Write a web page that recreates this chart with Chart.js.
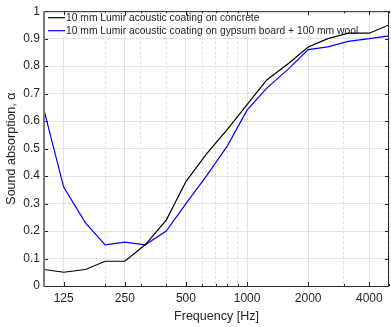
<!DOCTYPE html>
<html>
<head>
<meta charset="utf-8">
<script src="https://cdn.jsdelivr.net/npm/chart.js@4"></script>
<style>
  html, body { margin: 0; padding: 0; background: #fff; }
  #wrap { width: 391px; height: 327px; overflow: hidden; }
</style>
</head>
<body>
<div id="wrap"><canvas id="chart" width="394" height="327"></canvas></div>
<script>
// third-octave band centre frequencies
const frequencies = [100, 125, 160, 200, 250, 315, 400, 500, 630, 800, 1000, 1250, 1600, 2000, 2500, 3150, 4000, 5000];
const concrete = [0.06, 0.05, 0.06, 0.09, 0.09, 0.15, 0.24, 0.38, 0.48, 0.57, 0.66, 0.75, 0.81, 0.87, 0.90, 0.92, 0.92, 0.95];
const gypsumWool = [0.64, 0.36, 0.23, 0.15, 0.16, 0.15, 0.20, 0.30, 0.40, 0.51, 0.64, 0.72, 0.79, 0.86, 0.87, 0.89, 0.90, 0.91];
const seriesNames = [
    '10 mm Lumir acoustic coating on concrete',
    '10 mm Lumir acoustic coating on gypsum board + 100 mm wool'
];
const xTicks = [100, 125, 200, 250, 300, 400, 500, 600, 700, 800, 900, 1000, 2000, 3000, 4000, 5000];
const xLabels = [125, 250, 500, 1000, 2000, 4000];
const yTicks = [0, 0.1, 0.2, 0.3, 0.4, 0.5, 0.6, 0.7, 0.8, 0.9, 1];

const FONT = 'Liberation Sans, Arial, Helvetica, sans-serif';
const TEXT = '#262626';
const GRID = '#e3e3e3';

function toPoints(values) {
    return frequencies.map((f, i) => ({ x: f, y: values[i] }));
}

// legend box drawn inside the plot, under the lines
const insideLegend = {
    id: 'insideLegend',
    beforeDatasetsDraw(chart) {
        const { ctx, chartArea } = chart;
        const colors = ['#000000', '#0000ff'];
        ctx.save();
        ctx.fillStyle = '#ffffff';
        ctx.fillRect(chartArea.left + 1, chartArea.top + 1, 318, 24);
        ctx.font = '10.3px ' + FONT;
        ctx.textBaseline = 'middle';
        seriesNames.forEach((name, i) => {
            const y = chartArea.top + 6.5 + i * 13;
            ctx.strokeStyle = colors[i];
            ctx.lineWidth = 1.2;
            ctx.beginPath();
            ctx.moveTo(chartArea.left + 4, y);
            ctx.lineTo(chartArea.left + 21, y);
            ctx.stroke();
            ctx.fillStyle = TEXT;
            ctx.fillText(name, chartArea.left + 22, y);
        });
        ctx.restore();
    }
};

// MATLAB style box with inward ticks
const axesBox = {
    id: 'axesBox',
    afterDatasetsDraw(chart) {
        const { ctx, chartArea, scales } = chart;
        const { left, right, top, bottom } = chartArea;
        ctx.save();
        ctx.strokeStyle = TEXT;
        ctx.lineWidth = 1;
        ctx.beginPath();
        ctx.moveTo(left, bottom + 0.5);
        ctx.lineTo(right, bottom + 0.5);
        ctx.moveTo(left, top + 0.5);
        ctx.lineTo(right, top + 0.5);
        ctx.moveTo(right - 0.5, top);
        ctx.lineTo(right - 0.5, bottom);
        xTicks.forEach(v => {
            const x = Math.round(scales.x.getPixelForValue(v)) + 0.5;
            const len = xLabels.includes(v) ? 4 : 2;
            ctx.moveTo(x, bottom);
            ctx.lineTo(x, bottom - len);
            ctx.moveTo(x, top);
            ctx.lineTo(x, top + len);
        });
        yTicks.forEach(v => {
            const y = Math.round(scales.y.getPixelForValue(v)) + 0.5;
            ctx.moveTo(left, y);
            ctx.lineTo(left + 4, y);
            ctx.moveTo(right, y);
            ctx.lineTo(right - 4, y);
        });
        ctx.stroke();
        ctx.strokeStyle = '#7a7a7a';
        ctx.lineWidth = 2;
        ctx.beginPath();
        ctx.moveTo(left, top);
        ctx.lineTo(left, bottom + 1);
        ctx.stroke();
        ctx.restore();
    }
};

new Chart(document.getElementById('chart'), {
    type: 'line',
    data: {
        datasets: [
            { label: seriesNames[0], data: toPoints(concrete), borderColor: '#000000', borderWidth: 1.2, pointRadius: 0, tension: 0 },
            { label: seriesNames[1], data: toPoints(gypsumWool), borderColor: '#0000ff', borderWidth: 1.2, pointRadius: 0, tension: 0 }
        ]
    },
    options: {
        responsive: false,
        animation: false,
        devicePixelRatio: 1,
        layout: { padding: { top: 11, right: 1, left: 0, bottom: 0 } },
        plugins: { legend: { display: false }, tooltip: { enabled: false } },
        scales: {
            x: {
                type: 'logarithmic',
                min: 100,
                max: 5000,
                afterBuildTicks: scale => { scale.ticks = xTicks.map(v => ({ value: v })); },
                afterFit: scale => { scale.height = 41; },
                ticks: {
                    autoSkip: false,
                    maxRotation: 0,
                    padding: 5,
                    color: TEXT,
                    font: { family: FONT, size: 12 },
                    callback: v => xLabels.includes(v) ? String(v) : ''
                },
                grid: { color: GRID, drawTicks: false },
                border: {
                    display: false,
                    dash: ctx => (ctx.tick && !xLabels.includes(ctx.tick.value)) ? [3, 2] : []
                },
                title: {
                    display: true,
                    text: 'Frequency [Hz]',
                    color: TEXT,
                    font: { family: FONT, size: 12.5 },
                    padding: { top: 0, bottom: 2.5 }
                }
            },
            y: {
                min: 0,
                max: 1,
                afterBuildTicks: scale => { scale.ticks = yTicks.map(v => ({ value: v })); },
                afterFit: scale => { scale.width = 44; },
                ticks: {
                    padding: 4,
                    color: TEXT,
                    font: { family: FONT, size: 12 },
                    callback: v => (v === 0 || v === 1) ? String(v) : v.toFixed(1)
                },
                grid: { color: GRID, drawTicks: false },
                border: { display: false },
                title: {
                    display: true,
                    text: 'Sound absorption, α',
                    color: TEXT,
                    font: { family: FONT, size: 12.5 },
                    padding: { top: 4.5, bottom: 0 }
                }
            }
        }
    },
    plugins: [insideLegend, axesBox]
});
</script>
</body>
</html>
